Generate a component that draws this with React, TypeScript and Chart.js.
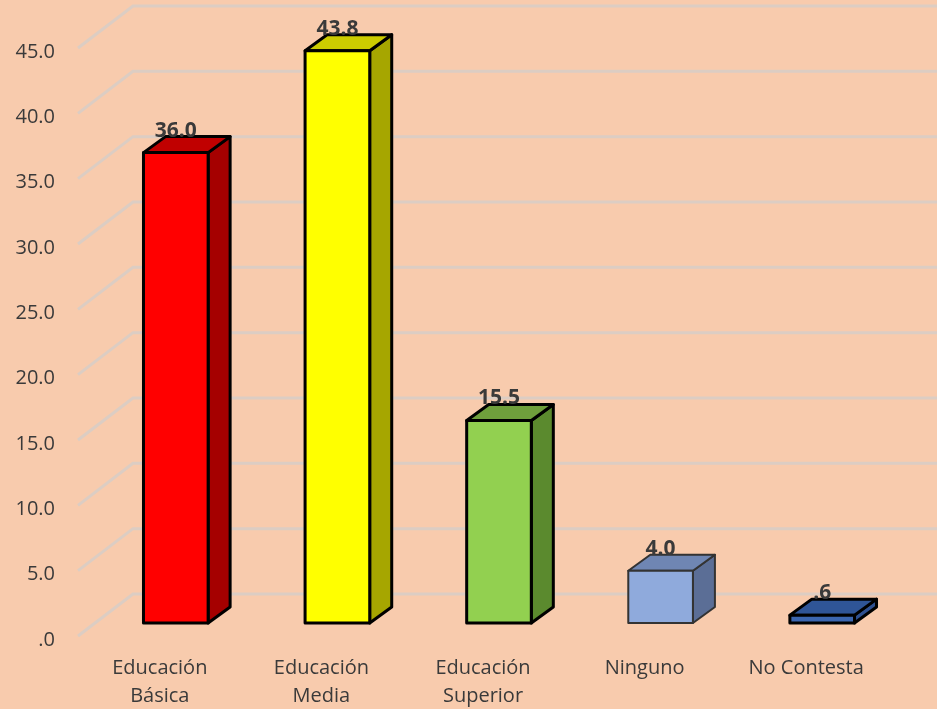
import React, { useEffect, useRef } from "react";
import { Chart, registerables } from "chart.js";

Chart.register(...registerables);

const categories: (string | string[])[] = [
  ["Educación", "Básica"],
  ["Educación", "Media"],
  ["Educación", "Superior"],
  "Ninguno",
  "No Contesta",
];
const values: number[] = [36.0, 43.8, 15.5, 4.0, 0.6];
const yTicks: number[] = [0, 5, 10, 15, 20, 25, 30, 35, 40, 45];

const frontColors = ["#FF0000", "#FFFF00", "#92D050", "#8FAADC", "#3B66B0"];
const sideColors = ["#A50000", "#A6A600", "#5B8A2E", "#5B6E96", "#2E5090"];
const topColors = ["#C00000", "#CCCC00", "#6F9F3C", "#6F86B3", "#2F5597"];
const outlineColors = ["#000000", "#000000", "#000000", "#333333", "#000000"];
const outlineWidths = [3, 3, 3, 2, 3];

const fmt = (v: number) => v.toFixed(1).replace(/^0\./, ".");

const DX = 22;
const DY = 16;

const threeD = {
  id: "threeD",
  beforeDatasetsDraw(chart: any) {
    const { ctx, chartArea, scales } = chart;
    const y = scales.y;
    ctx.save();
    ctx.strokeStyle = "#DCCDC3";
    ctx.lineWidth = 3;
    for (const v of yTicks) {
      const py = y.getPixelForValue(v);
      const fx = chartArea.left - 17;
      const fy = py + 13;
      const bx = chartArea.left + 38;
      const by = py - 29;
      ctx.beginPath();
      ctx.moveTo(fx, fy);
      ctx.lineTo(bx, by);
      ctx.lineTo(chart.width, by);
      ctx.stroke();
    }
    ctx.restore();
  },
  afterDatasetsDraw(chart: any) {
    const { ctx } = chart;
    const meta = chart.getDatasetMeta(0);
    ctx.save();
    meta.data.forEach((bar: any, i: number) => {
      const w = bar.width;
      const l = bar.x - w / 2;
      const r = bar.x + w / 2;
      const t = bar.y;
      const b = bar.base;
      ctx.lineJoin = "round";
      ctx.lineWidth = outlineWidths[i];
      ctx.strokeStyle = outlineColors[i];
      // side
      ctx.beginPath();
      ctx.moveTo(r, t);
      ctx.lineTo(r + DX, t - DY);
      ctx.lineTo(r + DX, b - DY);
      ctx.lineTo(r, b);
      ctx.closePath();
      ctx.fillStyle = sideColors[i];
      ctx.fill();
      ctx.stroke();
      // top
      ctx.beginPath();
      ctx.moveTo(l, t);
      ctx.lineTo(l + DX, t - DY);
      ctx.lineTo(r + DX, t - DY);
      ctx.lineTo(r, t);
      ctx.closePath();
      ctx.fillStyle = topColors[i];
      ctx.fill();
      ctx.stroke();
      // front
      ctx.beginPath();
      ctx.rect(l, t, w, b - t);
      ctx.fillStyle = frontColors[i];
      ctx.fill();
      ctx.stroke();
      // label
      ctx.fillStyle = "#3A3A3A";
      ctx.font = "bold 21px 'Open Sans'";
      ctx.textAlign = "center";
      ctx.textBaseline = "alphabetic";
      ctx.fillText(fmt(values[i]), bar.x, t - 16);
    });
    ctx.restore();
  },
};

export default function App() {
  const ref = useRef<HTMLCanvasElement | null>(null);
  useEffect(() => {
    if (!ref.current) return;
    const chart = new Chart(ref.current, {
      type: "bar",
      data: {
        labels: categories,
        datasets: [
          {
            data: values,
            backgroundColor: "rgba(0,0,0,0)",
            borderWidth: 0,
            categoryPercentage: 1,
            barPercentage: 0.4,
          },
        ],
      },
      options: {
        animation: false,
        responsive: true,
        maintainAspectRatio: false,
        layout: { padding: { left: 0, right: 34, top: 35, bottom: 0 } },
        plugins: { legend: { display: false }, tooltip: { enabled: false } },
        scales: {
          x: {
            grid: { display: false, drawTicks: false },
            border: { display: false },
            ticks: {
              color: "#3A3A3A",
              font: { family: "'Open Sans'", size: 20, lineHeight: 1.42 },
              padding: 31,
              labelOffset: -16,
              maxRotation: 0,
              autoSkip: false,
            },
            afterFit: (s: any) => {
              s.height = 86;
              s.paddingLeft = 0;
              s.paddingRight = 0;
            },
          },
          y: {
            min: 0,
            max: 45,
            grid: { display: false, drawTicks: false },
            border: { display: false },
            ticks: {
              stepSize: 5,
              color: "#3A3A3A",
              font: { family: "'Open Sans'", size: 20 },
              padding: 40,
              labelOffset: 17,
              callback: (v: any) => fmt(Number(v)),
            },
            afterFit: (s: any) => {
              s.width = 95;
              s.paddingTop = 0;
              s.paddingBottom = 0;
            },
          },
        },
      },
      plugins: [threeD],
    });
    return () => chart.destroy();
  }, []);
  return (
    <div
      style={{
        position: "fixed",
        left: 0,
        top: 0,
        width: 937,
        height: 709,
        background: "#F8CBAD",
      }}
    >
      <canvas ref={ref} />
    </div>
  );
}
